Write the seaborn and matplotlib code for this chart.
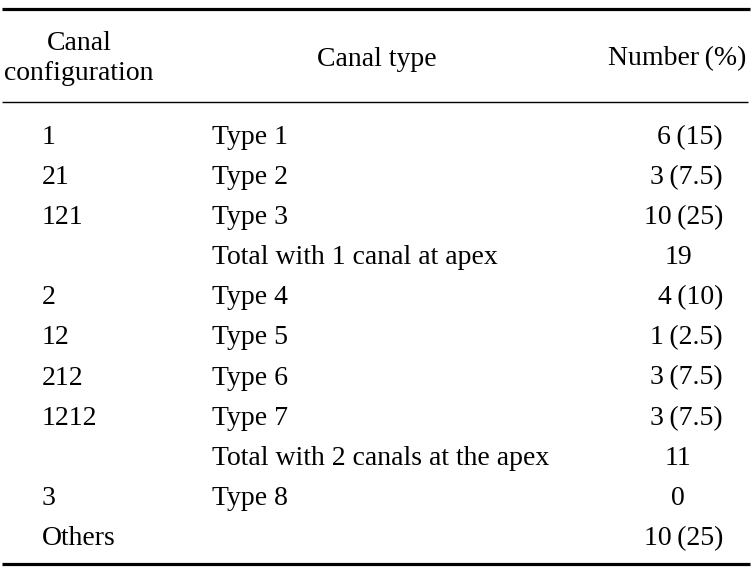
import numpy as np
import matplotlib
matplotlib.use("Agg")
from matplotlib import pyplot as plt
import seaborn as sns

# table contents
configs = ["1", "21", "121", "", "2", "12", "212", "1212", "", "3", "Others"]
canal_types = ["Type 1", "Type 2", "Type 3", "Total with 1 canal at apex",
               "Type 4", "Type 5", "Type 6", "Type 7",
               "Total with 2 canals at the apex", "Type 8", ""]
numbers = ["6\u2009(15)", "3\u2009(7.5)", "10\u2009(25)", "19", "4\u2009(10)",
           "1\u2009(2.5)", "3\u2009(7.5)", "3\u2009(7.5)", "11", "0",
           "10\u2009(25)"]
headers = ["Canal", "configuration", "Canal type", "Number\u2009(%)"]


def draw_table(ax):
    """
    Draws the booktabs style table in pixel coordinates
    """
    ax.set_xlim(0, 754)
    ax.set_ylim(576, 0)
    ax.axis("off")

    # rules
    ax.hlines(8.5, 2, 750, color="black", lw=2.3)
    ax.hlines(102, 2, 748, color="black", lw=1.0)
    ax.hlines(564, 2, 750, color="black", lw=2.3)

    fs = 20
    kw = dict(va="center", fontsize=fs, color="black")
    ax.text(79, 43, headers[0], ha="center", **kw)
    ax.text(79, 74, headers[1], ha="center", **kw)
    ax.text(377, 59, headers[2], ha="center", **kw)
    ax.text(746, 59, headers[3], ha="right", **kw)

    ys = 137.5 + np.arange(len(configs)) * 40.1
    for y, c, t, n in zip(ys, configs, canal_types, numbers):
        ax.text(42, y, c, ha="left", **kw)
        ax.text(212, y, t, ha="left", **kw)
        if "(" in n:
            ax.text(723, y, n, ha="right", **kw)
        else:
            ax.text(678, y, n, ha="center", **kw)
    return ax


sns.set_style("white")
plt.rcParams["font.family"] = ["Liberation Serif", "DejaVu Serif"]

fig = plt.figure(figsize=(7.54, 5.76), dpi=100)
ax = fig.add_axes([0, 0, 1, 1])
draw_table(ax)
fig.savefig("out.png", dpi=100, facecolor="white")
